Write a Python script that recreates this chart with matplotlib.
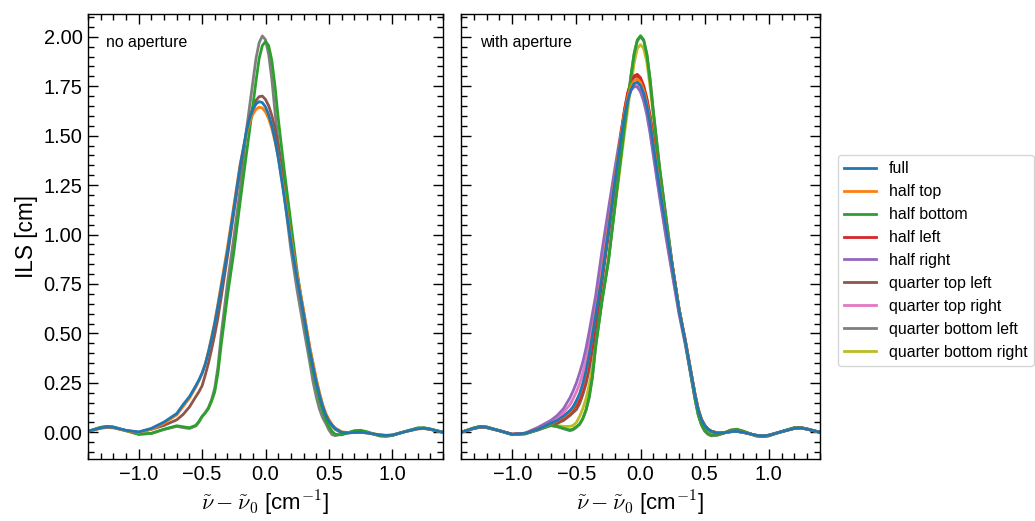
import matplotlib
matplotlib.use("Agg")
import matplotlib.pyplot as plt
from matplotlib.ticker import MultipleLocator

plt.rcParams['font.family'] = ['Liberation Sans', 'DejaVu Sans']
plt.rcParams['mathtext.fontset'] = 'cm'
plt.rcParams['axes.linewidth'] = 1.0

# shared sample positions (cm^-1)
x = [-1.4, -1.3, -1.25, -1.2, -1.1, -1.0, -0.9, -0.8,
     -0.7, -0.65, -0.6, -0.55, -0.525, -0.5, -0.475, -0.45, -0.425, -0.4, -0.375,
     -0.35, -0.3, -0.25, -0.2, -0.15, -0.125, -0.1, -0.075, -0.05, -0.025,
     0.0, 0.025, 0.05, 0.075, 0.1, 0.125, 0.15, 0.2, 0.25, 0.3,
     0.35, 0.375, 0.4, 0.425, 0.45, 0.475, 0.5, 0.525, 0.55, 0.6, 0.65,
     0.7, 0.75, 0.8, 0.9, 0.95, 1.0, 1.1, 1.2, 1.25, 1.3, 1.4]

labels = ["full", "half top", "half bottom", "half left", "half right",
          "quarter top left", "quarter top right", "quarter bottom left",
          "quarter bottom right"]

# ---------------- no aperture ----------------
na_full = [0.005, 0.022, 0.027, 0.025, 0.01, 0.002, 0.02, 0.052,
           0.095, 0.14, 0.18, 0.235, 0.265, 0.30, 0.345, 0.405, 0.475, 0.55, 0.64,
           0.73, 0.915, 1.13, 1.345, 1.524, 1.586, 1.631, 1.66, 1.672, 1.667,
           1.645, 1.606, 1.551, 1.479, 1.39, 1.285, 1.18, 0.965, 0.775, 0.60,
           0.41, 0.33, 0.255, 0.19, 0.132, 0.088, 0.057, 0.035, 0.018, 0.0, -0.003,
           -0.001, 0.0, -0.003, -0.013, -0.016, -0.014, 0.003, 0.018, 0.02, 0.015, 0.0]
na_half_top = [0.005, 0.02, 0.024, 0.022, 0.008, 0.0, 0.016, 0.046,
               0.088, 0.13, 0.172, 0.228, 0.26, 0.297, 0.345, 0.41, 0.482, 0.56, 0.65,
               0.745, 0.935, 1.145, 1.356, 1.512, 1.567, 1.608, 1.633, 1.644, 1.639,
               1.62, 1.585, 1.536, 1.471, 1.392, 1.297, 1.20, 0.985, 0.795, 0.62,
               0.43, 0.352, 0.272, 0.203, 0.143, 0.097, 0.064, 0.04, 0.022, 0.003, -0.002,
               -0.001, 0.0, -0.003, -0.012, -0.015, -0.013, 0.003, 0.017, 0.019, 0.014, 0.0]
na_half_bottom = [0.005, 0.025, 0.03, 0.027, 0.008, -0.01, -0.005, 0.016,
                  0.033, 0.028, 0.023, 0.035, 0.055, 0.08, 0.098, 0.12, 0.158, 0.205, 0.30,
                  0.44, 0.69, 0.91, 1.165, 1.41, 1.529, 1.65, 1.775, 1.89, 1.955,
                  1.976, 1.955, 1.88, 1.75, 1.59, 1.45, 1.315, 1.06, 0.81, 0.595,
                  0.39, 0.31, 0.235, 0.165, 0.11, 0.065, 0.03, 0.005, -0.01, -0.013, -0.003,
                  0.008, 0.01, 0.003, -0.018, -0.02, -0.016, 0.004, 0.022, 0.023, 0.017, 0.0]
na_q_top_left = [0.005, 0.022, 0.026, 0.024, 0.009, 0.0, 0.015, 0.035,
                 0.063, 0.09, 0.128, 0.18, 0.205, 0.235, 0.29, 0.35, 0.42, 0.495, 0.58,
                 0.68, 0.89, 1.11, 1.33, 1.521, 1.591, 1.643, 1.678, 1.697, 1.70,
                 1.683, 1.651, 1.602, 1.536, 1.454, 1.355, 1.25, 1.0, 0.795, 0.61,
                 0.42, 0.345, 0.262, 0.195, 0.135, 0.09, 0.056, 0.032, 0.015, -0.002, -0.003,
                 -0.001, 0.0, -0.003, -0.014, -0.017, -0.014, 0.003, 0.018, 0.02, 0.015, 0.0]
na_q_bottom_left = [0.005, 0.025, 0.03, 0.027, 0.008, -0.01, -0.006, 0.014,
                    0.03, 0.024, 0.019, 0.032, 0.052, 0.08, 0.10, 0.125, 0.165, 0.225, 0.33,
                    0.49, 0.755, 0.985, 1.23, 1.53, 1.65, 1.77, 1.89, 1.97, 2.004,
                    1.985, 1.91, 1.785, 1.62, 1.465, 1.32, 1.185, 0.925, 0.715, 0.53,
                    0.35, 0.255, 0.18, 0.118, 0.075, 0.045, 0.012, -0.012, -0.017, -0.01, -0.002,
                    0.006, 0.008, 0.0, -0.018, -0.02, -0.016, 0.004, 0.021, 0.022, 0.016, 0.0]

# ---------------- with aperture ----------------
wa_full = [0.0, 0.02, 0.027, 0.025, 0.008, -0.01, -0.005, 0.015,
           0.045, 0.06, 0.082, 0.11, 0.13, 0.16, 0.195, 0.245, 0.31, 0.39, 0.49,
           0.59, 0.79, 1.02, 1.27, 1.496, 1.599, 1.677, 1.732, 1.762, 1.77,
           1.753, 1.713, 1.648, 1.561, 1.45, 1.34, 1.23, 1.03, 0.83, 0.62,
           0.46, 0.37, 0.28, 0.19, 0.115, 0.065, 0.035, 0.017, 0.006, -0.004, -0.002,
           0.003, 0.005, 0.0, -0.015, -0.018, -0.015, 0.003, 0.02, 0.022, 0.016, 0.0]
wa_half_top = [0.0, 0.02, 0.026, 0.024, 0.008, -0.01, -0.005, 0.015,
               0.043, 0.058, 0.078, 0.105, 0.125, 0.155, 0.19, 0.24, 0.305, 0.39, 0.495,
               0.60, 0.80, 1.035, 1.285, 1.51, 1.612, 1.692, 1.748, 1.778, 1.786,
               1.769, 1.728, 1.663, 1.575, 1.465, 1.355, 1.245, 1.035, 0.835, 0.625,
               0.465, 0.375, 0.285, 0.195, 0.12, 0.068, 0.037, 0.018, 0.007, -0.003, -0.002,
               0.003, 0.005, 0.0, -0.015, -0.018, -0.015, 0.003, 0.02, 0.022, 0.016, 0.0]
wa_half_bottom = [0.0, 0.022, 0.03, 0.027, 0.008, -0.012, -0.008, 0.012,
                  0.035, 0.03, 0.02, 0.012, 0.017, 0.028, 0.042, 0.07, 0.115, 0.18, 0.28,
                  0.43, 0.665, 0.865, 1.14, 1.41, 1.545, 1.67, 1.80, 1.915, 1.984,
                  2.005, 1.984, 1.91, 1.78, 1.62, 1.475, 1.33, 1.08, 0.835, 0.625,
                  0.455, 0.36, 0.265, 0.17, 0.09, 0.04, 0.01, -0.006, -0.014, -0.013, -0.004,
                  0.01, 0.015, 0.006, -0.018, -0.022, -0.018, 0.004, 0.023, 0.024, 0.017, 0.0]
wa_half_left = [0.0, 0.02, 0.026, 0.024, 0.008, -0.01, -0.005, 0.015,
                0.042, 0.055, 0.072, 0.10, 0.115, 0.14, 0.17, 0.215, 0.28, 0.355, 0.455,
                0.57, 0.78, 1.01, 1.27, 1.52, 1.632, 1.717, 1.771, 1.802, 1.81,
                1.793, 1.752, 1.688, 1.60, 1.49, 1.375, 1.26, 1.04, 0.835, 0.625,
                0.462, 0.372, 0.282, 0.192, 0.117, 0.066, 0.036, 0.017, 0.006, -0.004, -0.002,
                0.003, 0.005, 0.0, -0.015, -0.018, -0.015, 0.003, 0.02, 0.022, 0.016, 0.0]
wa_half_right = [0.0, 0.02, 0.026, 0.024, 0.008, -0.01, -0.004, 0.025,
                 0.06, 0.085, 0.12, 0.175, 0.21, 0.25, 0.30, 0.355, 0.425, 0.51, 0.60,
                 0.69, 0.92, 1.13, 1.335, 1.53, 1.615, 1.685, 1.728, 1.748, 1.746,
                 1.721, 1.674, 1.604, 1.51, 1.40, 1.29, 1.185, 0.98, 0.79, 0.60,
                 0.44, 0.35, 0.26, 0.175, 0.105, 0.058, 0.03, 0.014, 0.004, -0.004, -0.002,
                 0.003, 0.005, 0.0, -0.015, -0.018, -0.015, 0.003, 0.02, 0.022, 0.016, 0.0]
wa_q_top_left = [0.0, 0.02, 0.026, 0.024, 0.008, -0.01, -0.006, 0.015,
                 0.038, 0.045, 0.06, 0.085, 0.10, 0.115, 0.145, 0.19, 0.245, 0.32, 0.42,
                 0.53, 0.76, 1.0, 1.26, 1.51, 1.625, 1.71, 1.765, 1.795, 1.80,
                 1.785, 1.745, 1.68, 1.595, 1.485, 1.37, 1.255, 1.04, 0.835, 0.625,
                 0.462, 0.372, 0.282, 0.192, 0.117, 0.066, 0.036, 0.017, 0.006, -0.004, -0.002,
                 0.003, 0.005, 0.0, -0.015, -0.018, -0.015, 0.003, 0.02, 0.022, 0.016, 0.0]
wa_q_top_right = [0.0, 0.02, 0.026, 0.024, 0.008, -0.01, -0.005, 0.02,
                  0.052, 0.072, 0.10, 0.14, 0.17, 0.205, 0.245, 0.30, 0.365, 0.45, 0.545,
                  0.64, 0.86, 1.07, 1.30, 1.515, 1.61, 1.68, 1.728, 1.75, 1.752,
                  1.728, 1.683, 1.615, 1.525, 1.415, 1.305, 1.20, 0.995, 0.80, 0.61,
                  0.45, 0.36, 0.27, 0.18, 0.11, 0.06, 0.032, 0.015, 0.005, -0.004, -0.002,
                  0.003, 0.005, 0.0, -0.015, -0.018, -0.015, 0.003, 0.02, 0.022, 0.016, 0.0]
wa_q_bottom_left = [0.0, 0.022, 0.03, 0.027, 0.008, -0.012, -0.008, 0.012,
                    0.034, 0.028, 0.018, 0.008, 0.013, 0.025, 0.04, 0.068, 0.11, 0.175, 0.28,
                    0.435, 0.67, 0.87, 1.145, 1.415, 1.55, 1.675, 1.80, 1.91, 1.978,
                    2.0, 1.98, 1.91, 1.785, 1.625, 1.48, 1.335, 1.085, 0.84, 0.628,
                    0.455, 0.36, 0.263, 0.167, 0.087, 0.037, 0.006, -0.01, -0.018, -0.015, -0.005,
                    0.01, 0.014, 0.005, -0.018, -0.022, -0.018, 0.004, 0.023, 0.024, 0.017, 0.0]
wa_q_bottom_right = [0.0, 0.022, 0.03, 0.027, 0.008, -0.012, -0.008, 0.013,
                     0.036, 0.034, 0.03, 0.03, 0.035, 0.05, 0.08, 0.12, 0.17, 0.24, 0.33,
                     0.45, 0.665, 0.875, 1.13, 1.385, 1.51, 1.63, 1.75, 1.865, 1.94,
                     1.96, 1.94, 1.87, 1.745, 1.595, 1.455, 1.315, 1.07, 0.83, 0.625,
                     0.455, 0.362, 0.268, 0.175, 0.095, 0.045, 0.015, -0.002, -0.01, -0.01, -0.003,
                     0.011, 0.016, 0.006, -0.018, -0.022, -0.018, 0.004, 0.023, 0.024, 0.017, 0.0]

colors = plt.rcParams['axes.prop_cycle'].by_key()['color']

no_aperture = {"full": na_full, "half top": na_half_top,
               "half bottom": na_half_bottom,
               "quarter top left": na_q_top_left,
               "quarter bottom left": na_q_bottom_left}
with_aperture = {"full": wa_full, "half top": wa_half_top,
                 "half bottom": wa_half_bottom, "half left": wa_half_left,
                 "half right": wa_half_right,
                 "quarter top left": wa_q_top_left,
                 "quarter top right": wa_q_top_right,
                 "quarter bottom left": wa_q_bottom_left,
                 "quarter bottom right": wa_q_bottom_right}

fig = plt.figure(figsize=(10.35, 5.21), dpi=100)
ax1 = fig.add_axes([88 / 1035, 62 / 521, 355 / 1035, 445 / 521])
ax2 = fig.add_axes([461 / 1035, 62 / 521, 359 / 1035, 445 / 521])

handles = {}
for ax, data, title in [(ax1, no_aperture, "no aperture"),
                        (ax2, with_aperture, "with aperture")]:
    for lab in reversed(labels):
        if lab in data:
            ln, = ax.plot(x, data[lab], color=colors[labels.index(lab)],
                          lw=2.0, label=lab, solid_joinstyle='round')
            if ax is ax2:
                handles[lab] = ln
    ax.set_xlim(-1.4, 1.4)
    ax.set_ylim(-0.135, 2.115)
    ax.xaxis.set_major_locator(MultipleLocator(0.5))
    ax.xaxis.set_minor_locator(MultipleLocator(0.1))
    ax.yaxis.set_major_locator(MultipleLocator(0.25))
    ax.yaxis.set_minor_locator(MultipleLocator(0.05))
    ax.tick_params(which='both', direction='in', top=True, right=True,
                   labelsize=14.4, width=1.0)
    ax.tick_params(which='major', length=7, pad=4)
    ax.tick_params(which='minor', length=4)
    ax.set_xlabel(r"$\tilde{\nu} - \tilde{\nu}_0$ [cm$^{-1}$]", fontsize=16)
    ax.text(0.052, 0.937, title, transform=ax.transAxes, fontsize=11.4,
            va='center', ha='left')

ax1.set_ylabel("ILS [cm]", fontsize=16.3)
ax2.tick_params(labelleft=False)

fig.legend([handles[l] for l in labels], labels, loc='upper left',
           bbox_to_anchor=(838 / 1035, 1 - 155 / 521), borderaxespad=0,
           fontsize=11.4, frameon=True)

fig.savefig("out.png", dpi=100)
